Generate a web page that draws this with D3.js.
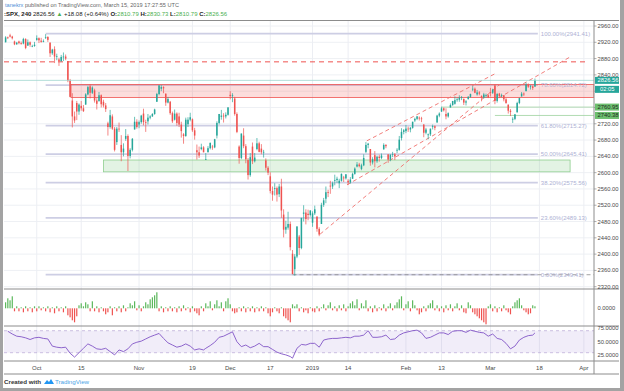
<!DOCTYPE html>
<html>
<head>
<meta charset="utf-8">
<script src="https://cdn.jsdelivr.net/npm/d3@7"></script>
<style>
body { margin: 0; background: #fff; }
svg { display: block; font-family: "Liberation Sans", Arial, sans-serif; }
</style>
</head>
<body>
<div id="container"></div>
<script>
var W = 624, H = 391;

// trading calendar (4h bars, 2 per session, 1 on half days)
var firstDay = '2018-09-20', lastDay = '2019-04-05';
var holidays = ['2018-11-22', '2018-12-05', '2018-12-25', '2019-01-01', '2019-01-21', '2019-02-18'];
var halfDays = ['2018-11-23', '2018-12-24'];

// [open, high, low, close] per 240 bar
var candles = [
  // Sep
  [2920,2935,2920,2932],[2932,2934,2928,2931],[2937,2941,2932,2934],[2934,2936,2927,2930],
  [2922,2924,2913,2915],[2915,2921,2914,2919],[2922,2924,2915,2918],[2918,2922,2914,2916],
  [2917,2931,2915,2928],[2928,2930,2903,2906],[2912,2927,2911,2920],[2920,2922,2909,2914],
  [2910,2914,2908,2911],[2911,2921,2909,2914],
  // Oct
  [2926,2937,2924,2930],[2930,2932,2918,2925],[2924,2931,2919,2921],[2921,2927,2920,2923],
  [2932,2940,2928,2933],[2933,2935,2921,2926],[2919,2920,2884,2893],[2893,2904,2889,2902],
  [2903,2910,2869,2885],[2885,2892,2876,2886],[2878,2882,2862,2874],[2874,2889,2872,2884],
  [2883,2895,2874,2885],[2885,2890,2876,2880],[2874,2874,2822,2826],[2826,2830,2785,2786],
  [2777,2795,2711,2738],[2738,2750,2722,2728],[2771,2776,2729,2750],[2750,2770,2742,2767],
  [2764,2776,2752,2758],[2758,2766,2749,2751],[2767,2795,2767,2792],[2792,2813,2790,2810],
  [2812,2817,2782,2796],[2796,2812,2793,2809],[2802,2806,2772,2777],[2777,2783,2755,2769],
  [2776,2798,2774,2790],[2790,2792,2760,2768],[2774,2779,2760,2765],[2765,2771,2749,2756],
  [2721,2725,2691,2712],[2712,2754,2708,2741],[2738,2743,2705,2708],[2708,2712,2652,2656],
  [2675,2712,2668,2708],[2708,2723,2700,2706],[2668,2692,2628,2650],[2650,2672,2640,2659],
  [2683,2707,2678,2690],[2690,2694,2604,2641],[2641,2660,2635,2656],[2656,2685,2652,2683],
  [2706,2737,2706,2725],[2725,2731,2708,2712],
  // Nov
  [2718,2728,2709,2724],[2724,2742,2720,2740],[2745,2757,2716,2724],[2724,2730,2700,2723],
  [2726,2744,2718,2735],[2735,2741,2731,2738],[2738,2746,2737,2744],[2744,2757,2742,2755],
  [2774,2796,2774,2793],[2793,2815,2790,2814],[2806,2815,2800,2810],[2810,2812,2795,2807],
  [2794,2794,2764,2772],[2772,2786,2770,2781],[2774,2776,2742,2746],[2746,2750,2722,2726],
  [2730,2755,2728,2745],[2745,2748,2715,2722],[2738,2747,2712,2718],[2718,2725,2686,2702],
  [2694,2697,2671,2690],[2690,2735,2688,2730],[2719,2736,2712,2730],[2730,2747,2726,2736],
  [2731,2733,2700,2704],[2704,2710,2681,2691],[2655,2669,2632,2650],[2650,2664,2636,2642],
  [2658,2671,2655,2662],[2662,2665,2650,2650],[2633,2648,2631,2633],
  [2650,2665,2650,2660],[2660,2674,2657,2673],[2664,2668,2656,2662],[2662,2683,2660,2682],
  [2691,2726,2684,2722],[2722,2744,2718,2744],[2737,2754,2730,2740],[2740,2746,2723,2738],
  [2738,2748,2733,2742],[2742,2761,2740,2760],
  // Dec
  [2791,2800,2780,2788],[2788,2795,2773,2790],[2782,2786,2740,2744],[2744,2748,2697,2700],
  [2664,2667,2622,2636],[2636,2696,2633,2696],[2691,2709,2660,2665],[2665,2670,2623,2633],
  [2631,2636,2583,2594],[2594,2648,2590,2638],[2664,2674,2621,2628],[2628,2648,2625,2637],
  [2658,2685,2655,2672],[2672,2676,2650,2651],[2659,2670,2645,2650],[2650,2656,2637,2651],
  [2630,2635,2605,2612],[2612,2616,2594,2600],[2591,2601,2549,2555],[2555,2566,2531,2546],
  [2560,2574,2544,2562],[2562,2566,2529,2546],[2547,2572,2540,2566],[2566,2585,2489,2507],
  [2497,2510,2441,2460],[2460,2482,2450,2467],[2465,2504,2460,2474],[2474,2480,2409,2417],
  [2401,2410,2351,2351],
  [2363,2400,2347,2394],[2394,2468,2390,2468],[2443,2447,2398,2415],[2415,2489,2412,2489],
  [2499,2520,2480,2502],[2502,2510,2473,2486],[2499,2509,2483,2496],[2496,2508,2492,2507],
  // Jan
  [2477,2505,2467,2500],[2500,2519,2496,2510],[2492,2493,2455,2462],[2462,2466,2444,2448],
  [2474,2526,2474,2521],[2521,2538,2516,2532],[2536,2566,2525,2552],[2552,2558,2540,2550],
  [2568,2580,2548,2566],[2566,2578,2560,2574],[2580,2595,2569,2582],[2582,2590,2575,2585],
  [2574,2585,2562,2580],[2580,2598,2578,2597],[2588,2592,2577,2586],[2586,2596,2583,2596],
  [2580,2584,2570,2576],[2576,2589,2573,2583],[2585,2600,2585,2597],[2597,2613,2595,2610],
  [2615,2626,2613,2620],[2620,2624,2613,2616],[2609,2622,2606,2618],[2618,2645,2616,2636],
  [2651,2675,2648,2668],[2668,2673,2660,2671],[2658,2658,2617,2625],[2625,2638,2620,2633],
  [2643,2653,2613,2628],[2628,2642,2624,2639],[2639,2644,2627,2636],[2636,2647,2633,2642],
  [2657,2672,2657,2668],[2668,2670,2660,2665],[2645,2645,2624,2632],[2632,2645,2628,2644],
  [2645,2651,2638,2645],[2645,2648,2631,2640],[2654,2660,2648,2656],[2656,2690,2654,2681],
  [2685,2709,2679,2700],[2700,2707,2694,2704],
  // Feb
  [2702,2717,2697,2708],[2708,2713,2700,2707],[2706,2712,2699,2710],[2710,2725,2708,2725],
  [2728,2735,2724,2732],[2732,2739,2729,2738],[2735,2738,2728,2733],[2733,2737,2724,2732],
  [2718,2719,2687,2698],[2698,2710,2694,2706],[2692,2696,2682,2694],[2694,2708,2690,2708],
  [2712,2718,2706,2714],[2714,2716,2704,2710],[2723,2742,2723,2740],[2740,2748,2736,2745],
  [2750,2762,2749,2758],[2758,2760,2750,2753],[2744,2758,2731,2738],[2738,2748,2735,2746],
  [2760,2770,2760,2766],[2766,2776,2764,2776],[2769,2787,2767,2778],[2778,2784,2774,2780],
  [2779,2790,2774,2784],[2784,2788,2778,2785],[2781,2782,2766,2772],[2772,2778,2765,2775],
  [2781,2788,2779,2786],[2786,2794,2784,2793],[2804,2813,2800,2806],[2806,2809,2795,2796],
  [2792,2803,2789,2797],[2797,2800,2790,2794],[2788,2790,2775,2784],[2784,2796,2782,2792],
  [2788,2794,2784,2790],[2790,2792,2783,2784],
  // Mar
  [2798,2808,2787,2796],[2796,2806,2793,2804],[2814,2817,2768,2776],[2776,2796,2772,2793],
  [2794,2796,2783,2788],[2788,2794,2785,2790],[2790,2790,2775,2780],[2780,2783,2769,2771],
  [2767,2767,2745,2752],[2752,2756,2739,2749],[2731,2736,2722,2732],[2732,2744,2729,2743],
  [2748,2774,2748,2771],[2771,2784,2768,2783],[2787,2798,2787,2794],[2794,2797,2788,2792],
  [2800,2821,2800,2816],[2816,2819,2808,2811],[2810,2815,2804,2812],[2812,2814,2803,2808],
  [2811,2831,2811,2827]
];

// oscillator histogram, one value per bar
var hist = [
  6,10,8,12,-3,2,-3,1,-4,2,    -3,1,-4,2,-3,2,-2,1,-3,2,
  -4,1,-5,2,-3,1,-4,2,-7,-9,   -12,-14,-8,3,5,2,6,4,-3,7,
  -3,2,-4,1,-3,-6,-4,2,-7,1,   -3,2,-4,3,-3,1,5,3,7,-2,
  3,-3,2,6,4,9,11,13,16,-3,    2,-4,1,-3,2,-3,1,-4,2,-3,
  3,-2,1,-4,2,-3,-5,-7,2,-3,   5,2,7,-2,4,8,2,6,-3,7,
  10,4,-3,-5,-4,1,-3,2,-4,1,   -3,2,-4,1,-3,2,-3,1,-5,-8,
  -4,1,-3,-5,1,-8,-10,-12,-14,4, 2,4,-3,1,-4,-2,-5,1,-3,-4,
  2,-3,1,4,-2,3,6,-2,2,-3,     3,-2,4,-3,2,5,7,3,9,-2,
  5,2,8,-3,2,-4,3,-3,1,-2,     4,-3,2,5,-2,3,6,9,12,-2,
  4,7,-3,8,3,-2,-6,-4,2,-3,    3,5,8,-2,3,-3,2,-4,3,-2,
  4,-3,2,5,-2,3,-4,-5,6,3,     -4,-6,-8,-10,-12,-14,-16,2,4,-3,
  2,-4,1,-3,3,-2,-4,-6,2,6,    8,10,3,-2,-4,-6,-5,3,2
];

// RSI(14), one value per session
var rsi = [
  69,64,60,59,57,54,57,58,56,55,42,40,39,40,29,22,30,38,46,42,
  37,36,38,32,26,35,32,37,46,49,51,55,59,62,65,56,48,44,40,42,
  46,42,35,37,35,38,43,49,58,60,64,68,50,41,44,39,42,47,41,41,
  36,31,28,26,23,20,38,45,44,47,47,40,53,55,56,56,57,58,57,60,
  60,62,70,58,58,59,62,54,55,62,66,68,70,71,66,56,58,62,66,66,
  63,69,70,70,67,71,69,67,66,60,64,56,54,47,37,42,53,58,61,62,66
];

var tickDates = ['2018-10-01', '2018-10-15', '2018-11-01', '2018-11-19', '2018-12-03', '2018-12-17',
  '2019-01-02', '2019-01-14', '2019-02-01', '2019-02-13', '2019-03-01', '2019-03-18', '2019-04-01'];
var tickLabels = ['Oct', '15', 'Nov', '19', 'Dec', '17', '2019', '14', 'Feb', '13', 'Mar', '18', 'Apr'];

var priceTicks = [2320, 2360, 2400, 2440, 2480, 2520, 2560, 2600, 2640, 2680, 2720, 2760, 2800, 2840, 2880, 2920, 2960];
var hiddenTicks = [2760, 2800];   // covered by the price tags
var fibNames = ['0.00%', '23.60%', '38.20%', '50.00%', '61.80%', '78.60%', '100.00%'];
var fibPrices = [2349.41, 2489.13, 2575.56, 2645.41, 2715.27, 2814.72, 2941.41];
var rsiTicks = [25, 50, 75];

var lastPrice = 2826.56;
var resistance = 2872;          // red dashed line
var redZone = [2784.4, 2816.4];
var greenZone = [2602, 2631];
var greenLevels = [2760.95, 2740.38];
// channel drawings, [bar, price] endpoints
var channels = [
  [[162.4, 2678], [220.8, 2845]],
  [[153.5, 2570], [253.8, 2884]],
  [[141.4, 2449], [222.3, 2817]]
];

var upCol = '#26a69a', dnCol = '#ef5350';

/* calendar -> bar slots */
var parse = d3.utcParse('%Y-%m-%d'), fmt = d3.utcFormat('%Y-%m-%d');
var slotDay = [], firstSlot = {}, lastSlot = {}, sessions = [];
d3.utcDays(parse(firstDay), d3.utcDay.offset(parse(lastDay), 1)).forEach(function(d) {
  var wd = d.getUTCDay(), s = fmt(d);
  if (wd === 0 || wd === 6 || holidays.indexOf(s) >= 0) return;
  firstSlot[s] = slotDay.length;
  var n = halfDays.indexOf(s) >= 0 ? 1 : 2;
  for (var k = 0; k < n; k++) slotDay.push(s);
  lastSlot[s] = slotDay.length - 1;
  sessions.push(s);
});

var svg = d3.select('#container').append('svg')
  .attr('width', W).attr('height', H);

var padL = 4, axisX = 594, paneTop = 21, mainBot = 289, histBot = 326, rsiBot = 361, timeBot = 374;

var x = d3.scaleLinear().domain([0, 240]).range([5.6, 539.4]);
var y = d3.scaleLinear().domain([2320, 2960]).range([286.7, 26]);
var yh = d3.scaleLinear().domain([-18, 18]).range([326.3, 290.3]);
var yr = d3.scaleLinear().domain([25, 75]).range([355.45, 327.95]);

svg.append('rect').attr('width', W).attr('height', H).attr('fill', '#fff');

var defs = svg.append('defs');
defs.append('clipPath').attr('id', 'mainClip').append('rect')
  .attr('x', padL).attr('y', paneTop).attr('width', axisX - padL).attr('height', mainBot - paneTop);

function tickIndex(s) {
  return firstSlot[s];
}

/* grid */
var grid = svg.append('g');
grid.selectAll('.hg').data(priceTicks).enter().append('line')
  .attr('x1', padL).attr('x2', axisX)
  .attr('y1', d => y(d)).attr('y2', d => y(d))
  .attr('stroke', '#eef0f4').attr('stroke-width', 1);
grid.selectAll('.vg').data(tickDates).enter().append('line')
  .attr('x1', d => x(tickIndex(d))).attr('x2', d => x(tickIndex(d)))
  .attr('y1', paneTop).attr('y2', rsiBot)
  .attr('stroke', '#eceef3').attr('stroke-width', 1);

var main = svg.append('g').attr('clip-path', 'url(#mainClip)');

/* fib levels */
var fibStart = firstSlot['2018-10-03'], fibEnd = 239.3;
main.selectAll('.fib').data(fibPrices).enter().append('line')
  .attr('x1', x(fibStart)).attr('x2', x(fibEnd))
  .attr('y1', d => y(d)).attr('y2', d => y(d))
  .attr('stroke', '#cdcee4').attr('stroke-width', 1.8);
main.append('line')
  .attr('x1', x(firstSlot['2018-12-17'] + 10)).attr('x2', axisX)
  .attr('y1', y(fibPrices[0])).attr('y2', y(fibPrices[0]))
  .attr('stroke', '#8a8a8a').attr('stroke-width', 0.8).attr('stroke-dasharray', '4,3');

/* zones */
var redFrom = firstSlot['2018-10-11'] - 0.6;
main.append('rect')
  .attr('x', x(redFrom)).attr('width', axisX - x(redFrom))
  .attr('y', y(redZone[1])).attr('height', y(redZone[0]) - y(redZone[1]))
  .attr('fill', 'rgba(239,83,80,0.2)').attr('stroke', '#ef5350').attr('stroke-width', 0.8);
var grFrom = firstSlot['2018-10-22'];
main.append('rect')
  .attr('x', x(grFrom)).attr('width', x(253.8) - x(grFrom))
  .attr('y', y(greenZone[1])).attr('height', y(greenZone[0]) - y(greenZone[1]))
  .attr('fill', 'rgba(129,199,132,0.22)').attr('stroke', '#8fcf8f').attr('stroke-width', 0.8);

main.append('line')
  .attr('x1', padL).attr('x2', x(261.4))
  .attr('y1', y(resistance)).attr('y2', y(resistance))
  .attr('stroke', '#ef5350').attr('stroke-width', 1).attr('stroke-dasharray', '5,4');

var greenFrom = [firstSlot['2019-02-13'], firstSlot['2019-03-04']];
main.selectAll('.gl').data(greenLevels).enter().append('line')
  .attr('x1', (d, i) => x(greenFrom[i])).attr('x2', axisX)
  .attr('y1', d => y(d)).attr('y2', d => y(d))
  .attr('stroke', '#9ed39f').attr('stroke-width', 0.8);

/* channels */
var line = d3.line().x(d => x(d[0])).y(d => y(d[1]));
main.selectAll('.ch').data(channels).enter().append('path')
  .attr('d', line).attr('fill', 'none')
  .attr('stroke', '#ef6f6c').attr('stroke-width', 0.9).attr('stroke-dasharray', '4,3');

/* candles */
var cg = main.append('g');
cg.selectAll('.wick').data(candles).enter().append('line')
  .attr('x1', (d, i) => x(i)).attr('x2', (d, i) => x(i))
  .attr('y1', d => y(d[1])).attr('y2', d => y(d[2]))
  .attr('stroke', d => d[3] >= d[0] ? upCol : dnCol).attr('stroke-width', 0.7);
cg.selectAll('.body').data(candles).enter().append('rect')
  .attr('x', (d, i) => x(i) - 0.75).attr('width', 1.5)
  .attr('y', d => y(Math.max(d[0], d[3])))
  .attr('height', d => Math.max(0.7, Math.abs(y(d[0]) - y(d[3]))))
  .attr('fill', d => d[3] >= d[0] ? upCol : dnCol);

/* last price line */
main.append('line')
  .attr('x1', padL).attr('x2', axisX)
  .attr('y1', y(lastPrice)).attr('y2', y(lastPrice))
  .attr('stroke', '#9fd6cf').attr('stroke-width', 0.8);

/* fib labels on top */
main.selectAll('.fibl').data(fibPrices).enter().append('text')
  .attr('x', x(fibEnd) + 3).attr('y', d => y(d) + 2.2)
  .attr('font-size', 6).attr('fill', '#aeb1d4')
  .text((d, i) => fibNames[i] + '(' + d.toFixed(2) + ')');

/* histogram pane */
svg.append('g').selectAll('rect').data(hist).enter().append('rect')
  .attr('x', (d, i) => x(i) - 0.6).attr('width', 1.2)
  .attr('y', d => Math.min(yh(d), yh(0)))
  .attr('height', d => Math.abs(yh(d) - yh(0)))
  .attr('fill', d => d >= 0 ? '#5cb85c' : '#ef5350');

/* rsi pane */
svg.append('rect').attr('x', padL).attr('width', axisX - padL)
  .attr('y', yr(70)).attr('height', yr(30) - yr(70))
  .attr('fill', 'rgba(149,117,205,0.13)');
svg.selectAll('.rl').data([70, 30]).enter().append('line')
  .attr('x1', padL).attr('x2', axisX).attr('y1', d => yr(d)).attr('y2', d => yr(d))
  .attr('stroke', '#b8a9d6').attr('stroke-width', 0.7).attr('stroke-dasharray', '3,3');
var rsiPts = rsi.map(function(v, i) {
  return [Math.min(lastSlot[sessions[i]], candles.length - 1), v];
});
svg.append('path')
  .attr('d', d3.line().x(d => x(d[0])).y(d => yr(d[1]))(rsiPts))
  .attr('fill', 'none').attr('stroke', '#8155c6').attr('stroke-width', 0.9);

/* pane borders */
var sep = svg.append('g').attr('stroke', '#8c8c8c').attr('stroke-width', 1);
[20.5, mainBot, histBot, rsiBot, timeBot].forEach(function(v) {
  sep.append('line').attr('x1', padL).attr('x2', 619).attr('y1', v).attr('y2', v);
});
sep.append('line').attr('x1', axisX).attr('x2', axisX).attr('y1', 20.5).attr('y2', timeBot);

/* price axis */
var shown = priceTicks.filter(d => hiddenTicks.indexOf(d) < 0);
var pa = svg.append('g').attr('font-size', 5.8).attr('fill', '#4a4a4a');
pa.selectAll('text').data(shown).enter().append('text')
  .attr('x', 597.5).attr('y', d => y(d) + 2).text(d => d.toFixed(2));
pa.selectAll('line').data(priceTicks).enter().append('line')
  .attr('x1', axisX).attr('x2', axisX + 2.5).attr('y1', d => y(d)).attr('y2', d => y(d))
  .attr('stroke', '#8c8c8c').attr('stroke-width', 0.7);
pa.append('text').attr('x', 597.5).attr('y', yh(0) + 2).text('0.0000');
pa.selectAll('.rt').data(rsiTicks).enter().append('text')
  .attr('x', 597.5).attr('y', d => yr(d) + 2).text(d => d.toFixed(4));

function tag(price, txt, bg, fg) {
  var g = svg.append('g');
  g.append('rect').attr('x', 595).attr('y', y(price) - 3.5).attr('width', 24).attr('height', 7).attr('fill', bg);
  g.append('text').attr('x', 597.5).attr('y', y(price) + 2).attr('font-size', 5.8)
    .attr('fill', fg).text(txt);
}
tag(greenLevels[0], greenLevels[0].toFixed(2), '#6dbf6f', '#1d2b1d');
tag(greenLevels[1], greenLevels[1].toFixed(2), '#6dbf6f', '#1d2b1d');
tag(lastPrice, lastPrice.toFixed(2), upCol, '#fff');
svg.append('rect').attr('x', 595).attr('y', y(lastPrice) + 5.5).attr('width', 24).attr('height', 7).attr('fill', upCol);
svg.append('text').attr('x', 600).attr('y', y(lastPrice) + 11).attr('font-size', 5.8).attr('fill', '#fff').text('02:05');

/* time axis */
svg.append('g').selectAll('text').data(tickDates).enter().append('text')
  .attr('x', d => x(tickIndex(d))).attr('y', 369.5)
  .attr('text-anchor', 'middle').attr('font-size', 6).attr('fill', '#4a4a4a')
  .text((d, i) => tickLabels[i]);

/* header */
var h1 = svg.append('text').attr('x', 5).attr('y', 7).attr('font-size', 5.6).attr('fill', '#666');
h1.append('tspan').attr('fill', '#4f8fd6').text('tanekrx');
h1.append('tspan').text(' published on TradingView.com, March 15, 2019 17:27:55 UTC');

var h2 = svg.append('text').attr('x', 4).attr('y', 16.3).attr('font-size', 6).attr('fill', '#222');
var upTxt = '#4caf50';
[[':SPX, 240 ', '#222', 'bold'], ['2826.56 ', '#222', 'normal'], ['\u25B2', upTxt, 'normal'],
 [' +18.08 (+0.64%) ', '#222', 'normal'], ['O:', '#222', 'bold'], ['2810.79 ', upTxt, 'normal'],
 ['H:', '#222', 'bold'], ['2830.73 ', upTxt, 'normal'], ['L:', '#222', 'bold'], ['2810.79 ', upTxt, 'normal'],
 ['C:', '#222', 'bold'], ['2826.56', upTxt, 'normal']].forEach(function(p) {
  h2.append('tspan').attr('fill', p[1]).attr('font-weight', p[2]).text(p[0]);
});

/* footer */
var ft = svg.append('g');
ft.append('text').attr('x', 4).attr('y', 384).attr('font-size', 6.2).attr('font-weight', 'bold')
  .attr('fill', '#333').text('Created with');
ft.append('path').attr('d', 'M44,384 l3,-4 l2,2 l2,-3 l3,5 z').attr('fill', '#2196f3');
ft.append('text').attr('x', 55).attr('y', 384).attr('font-size', 6.2).attr('fill', '#4aa3e6').text('TradingView');

/* outer frame */
var fr = svg.append('g').attr('fill', '#a3a3a3');
fr.append('rect').attr('x', 0).attr('y', 0).attr('width', 3).attr('height', H);
fr.append('rect').attr('x', 620).attr('y', 0).attr('width', 4).attr('height', H);
fr.append('rect').attr('x', 0).attr('y', 388).attr('width', W).attr('height', 3);
</script>
</body>
</html>
